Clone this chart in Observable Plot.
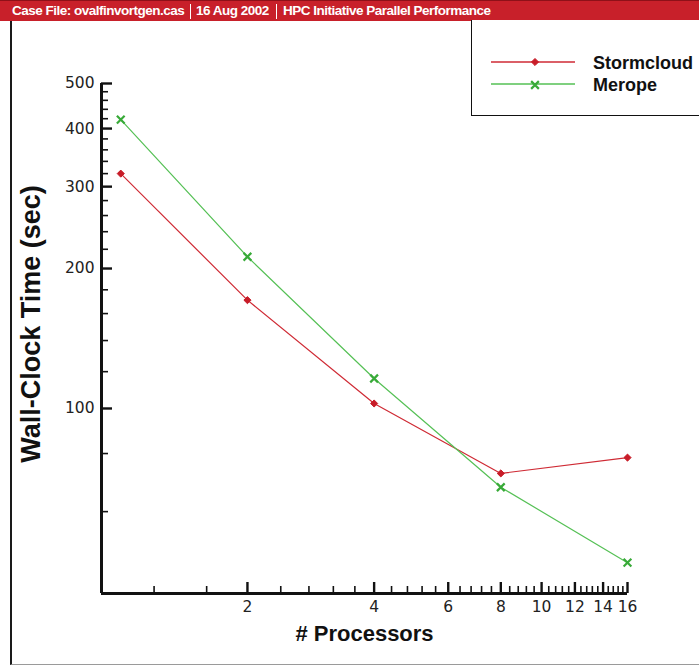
<!DOCTYPE html>
<html>
<head>
<meta charset="utf-8">
<script src="https://cdn.jsdelivr.net/npm/d3@7"></script>
<script src="https://cdn.jsdelivr.net/npm/@observablehq/plot@0.6"></script>
<style>
  body { margin: 0; background: #fff; }
  #wrap { position: relative; width: 699px; height: 666px; overflow: hidden; background: #fff;
          font-family: "Liberation Sans", Arial, Helvetica, sans-serif; }
  #hdr { position: absolute; left: 0; top: 0; width: 699px; height: 21px; background: #c8202a;
         border-top: 1px solid #8e1018; box-sizing: border-box; }
  .hseg { position: absolute; top: 2px; color: #fff; font-family: "Liberation Sans Narrow", "Arial Narrow", "Liberation Sans", sans-serif;
          font-weight: bold; font-size: 13.5px; letter-spacing: -0.5px; white-space: nowrap; line-height: 16px; }
  .hsep { position: absolute; top: 3px; width: 1px; height: 15px; background: #fff; }
  #frame { position: absolute; left: 10px; top: 21px; width: 700px; height: 643px;
           border-left: 2px solid #1a1a1a; border-bottom: 1px solid #9a9a9a; }
  #legend { position: absolute; left: 471px; top: 20px; width: 240px; height: 95px;
            border: 1px solid #111; border-top: none; background: #fff; }
  #chart { position: absolute; left: 0; top: 0; }
  #ytitle { position: absolute; left: 0; top: 0; pointer-events: none; }
</style>
</head>
<body>
<div id="wrap">
  <div id="frame"></div>
  <div id="chart"></div>
  <svg id="ytitle" width="699" height="666"></svg>
  <div id="hdr">
    <span class="hseg" style="left:12px">Case File: ovalfinvortgen.cas</span>
    <div class="hsep" style="left:190px"></div>
    <span class="hseg" style="left:196px">16 Aug 2002</span>
    <div class="hsep" style="left:276px"></div>
    <span class="hseg" style="left:283px">HPC Initiative Parallel Performance</span>
  </div>
  <div id="legend"></div>
</div>
<script>
// ---- data ----
const processors = [1, 2, 4, 8, 16];
const stormcloud = [320, 171, 102.5, 72.5, 78.4];
const merope     = [418, 212, 116, 67.7, 46.6];
const seriesNames = ["Stormcloud", "Merope"];
const seriesColors = ["#cf2a34", "#55c055"];
const markerColors = ["#c81c28", "#38aa38"];

const yMajorTicks = [100, 200, 300, 400, 500];
const yMinorTicks = [60, 80, 120, 140, 160, 180, 220, 240, 260, 280, 320, 340, 360, 380, 420, 440, 460, 480];
const xTickLabels = [2, 4, 6, 8, 10, 12, 14, 16];
const xMinorTicks = [1.2, 1.6, 2.4, 2.8, 3.2, 3.6, 4.4, 4.8, 5.2, 5.6, 6.4, 6.8, 7.2, 7.6,
                     8.4, 8.8, 9.2, 9.6, 10.4, 10.8, 11.2, 11.6, 12.4, 12.8, 13.2, 13.6,
                     14.4, 14.8, 15.2, 15.6];
const xTitle = "# Processors";
const yTitle = "Wall-Clock Time (sec)";

// ---- layout ----
const W = 699, H = 666;
const mL = 101, mR = 72, mT = 83, mB = 73;
const fw = W - mL - mR, fh = H - mT - mB;

const rowsS = processors.map((p, i) => ({p, t: stormcloud[i], s: seriesNames[0]}));
const rowsM = processors.map((p, i) => ({p, t: merope[i], s: seriesNames[1]}));

const tickFont = "DejaVu Sans, Liberation Sans, sans-serif";

const chart = Plot.plot({
  width: W, height: H,
  marginLeft: mL, marginRight: mR, marginTop: mT, marginBottom: mB,
  x: {type: "log", domain: [0.9, 16], axis: null},
  y: {type: "log", domain: [40, 500], axis: null},
  style: {background: "transparent", overflow: "visible"},
  marks: [
    // minor & major ticks (inward)
    Plot.tickY(yMinorTicks, {y: d => d, insetRight: fw - 7, stroke: "#111", strokeWidth: 1.6}),
    Plot.tickY(yMajorTicks, {y: d => d, insetRight: fw - 11, stroke: "#111", strokeWidth: 2.4}),
    Plot.tickX(xMinorTicks, {x: d => d, insetTop: fh - 7, stroke: "#111", strokeWidth: 1.6}),
    Plot.tickX(xTickLabels, {x: d => d, insetTop: fh - 11, stroke: "#111", strokeWidth: 2.4}),
    // axis lines
    Plot.ruleX([0.9], {stroke: "#111", strokeWidth: 3}),
    Plot.ruleY([40], {stroke: "#111", strokeWidth: 3}),
    // tick labels
    Plot.text(yMajorTicks, {y: d => d, frameAnchor: "left", dx: -7, textAnchor: "end",
      text: d => String(d), fontSize: 15.5, fontFamily: tickFont, fill: "#222"}),
    Plot.text(xTickLabels, {x: d => d, frameAnchor: "bottom", dy: 18,
      text: d => String(d), fontSize: 15.5, fontFamily: tickFont, fill: "#222"}),
    // x axis title
    Plot.text([xTitle], {frameAnchor: "bottom", dy: 47, text: d => d, fontSize: 22,
      fontWeight: "bold", fill: "#111", fontFamily: "Liberation Sans, Arial, sans-serif"}),
    // series
    Plot.line(rowsS, {x: "p", y: "t", stroke: seriesColors[0], strokeWidth: 1.2}),
    Plot.line(rowsM, {x: "p", y: "t", stroke: seriesColors[1], strokeWidth: 1.2}),
    Plot.dot(rowsS, {x: "p", y: "t", symbol: "diamond2", r: 3.2, fill: markerColors[0], stroke: markerColors[0], strokeWidth: 1}),
    Plot.dot(rowsM, {x: "p", y: "t", symbol: "times", r: 3.6, stroke: markerColors[1], strokeWidth: 2.2})
  ]
});
document.getElementById("chart").appendChild(chart);

// ---- y axis title (rotated) ----
d3.select("#ytitle").append("text")
  .attr("transform", "translate(31,324) rotate(-90)")
  .attr("text-anchor", "middle").attr("dominant-baseline", "central")
  .attr("font-family", "Liberation Sans, Arial, sans-serif").attr("font-weight", "bold")
  .attr("font-size", 27).attr("fill", "#111").text(yTitle);

// ---- legend ----
const leg = d3.select("#legend").append("svg").attr("width", 240).attr("height", 95);
const legY = [42, 64];
seriesNames.forEach((name, i) => {
  const g = leg.append("g");
  g.append("line").attr("x1", 19).attr("x2", 103).attr("y1", legY[i]).attr("y2", legY[i])
    .attr("stroke", seriesColors[i]).attr("stroke-width", 1.3);
  if (i === 0) {
    g.append("path").attr("d", d3.symbol(d3.symbolDiamond2, Math.PI * 3.2 * 3.2)())
      .attr("transform", `translate(63,${legY[i]})`).attr("fill", markerColors[0]).attr("stroke", markerColors[0]);
  } else {
    g.append("path").attr("d", d3.symbol(d3.symbolTimes, Math.PI * 3.6 * 3.6)())
      .attr("transform", `translate(63,${legY[i] + 1})`).attr("fill", "none")
      .attr("stroke", markerColors[1]).attr("stroke-width", 2.2);
  }
  g.append("text").attr("x", 121).attr("y", legY[i] + 2).attr("dominant-baseline", "middle")
    .attr("font-family", "Liberation Sans, Arial, sans-serif").attr("font-weight", "bold")
    .attr("font-size", 18).attr("fill", "#111").text(name);
});
</script>
</body>
</html>
